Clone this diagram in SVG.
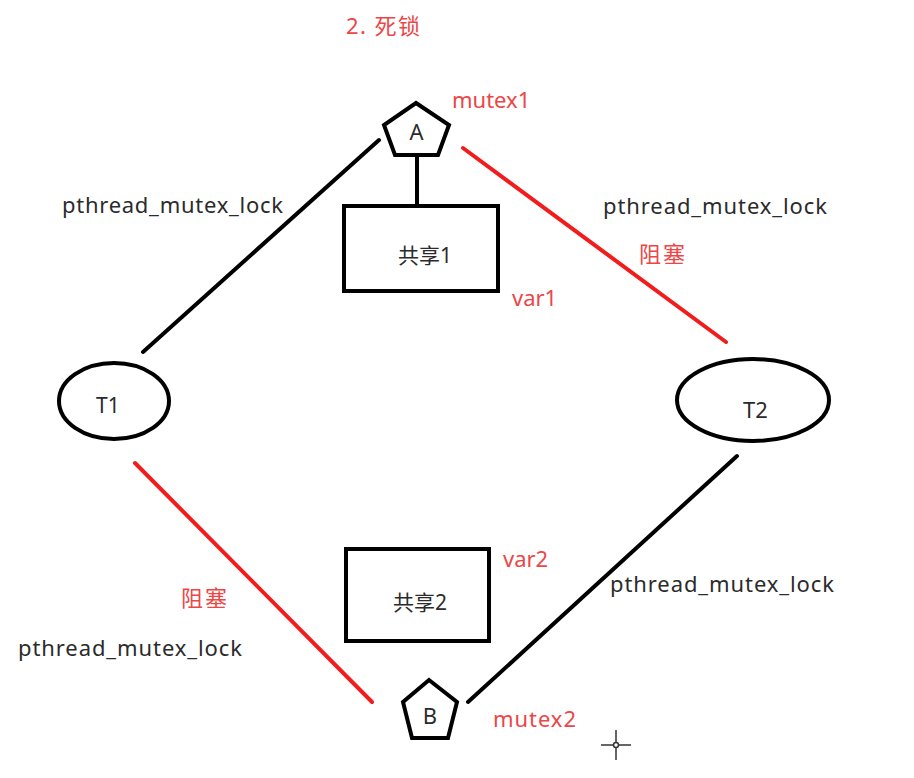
<svg xmlns="http://www.w3.org/2000/svg" width="914" height="778" viewBox="0 0 914 778">
<style>
.shape{fill:#fff;stroke:#000;stroke-width:4}
.blk{stroke:#000;stroke-width:4;stroke-linecap:round;fill:none}
.red{stroke:#f21c1c;stroke-width:4;stroke-linecap:round;fill:none}
.t{font-family:"Noto Sans","Noto Sans CJK SC",sans-serif;fill:#2b2b2b}
.r{font-family:"Noto Sans","Noto Sans CJK SC",sans-serif;fill:#ec4646}
</style>
<rect width="914" height="778" fill="#fff"/>
<text class="r" x="346" y="34" font-size="22" textLength="74">2. 死锁</text>
<g id="connectors">
<line class="blk" x1="379" y1="140" x2="143" y2="352"/>
<line class="red" x1="463" y1="148" x2="726" y2="342"/>
<line class="blk" x1="417" y1="155" x2="417" y2="206"/>
<line class="red" x1="135" y1="463" x2="372" y2="702"/>
<line class="blk" x1="737" y1="456" x2="468" y2="702"/>
</g>
<g id="nodeA">
<polygon class="shape" points="416,103 449,125 438,155 395,155 384,125"/>
<text class="t" x="416.5" y="140" font-size="22" text-anchor="middle">A</text>
<text class="r" x="452" y="108" font-size="22">mutex1</text>
</g>
<g id="share1">
<rect class="shape" x="344" y="206" width="154" height="85"/>
<text class="t" x="398" y="263" font-size="21">共享1</text>
<text class="r" x="512" y="306" font-size="22">var1</text>
</g>
<g id="T1">
<ellipse class="shape" cx="114" cy="401" rx="55" ry="38"/>
<text class="t" x="96" y="413" font-size="21">T1</text>
</g>
<g id="T2">
<ellipse class="shape" cx="753" cy="400" rx="76" ry="41"/>
<text class="t" x="743" y="418" font-size="22">T2</text>
</g>
<g id="share2">
<rect class="shape" x="346" y="549" width="143" height="92"/>
<text class="t" x="393" y="610" font-size="21">共享2</text>
<text class="r" x="503" y="567" font-size="22">var2</text>
</g>
<g id="nodeB">
<polygon class="shape" points="429,680 457,702 448,738 412,738 403,702"/>
<text class="t" x="430" y="724" font-size="22" text-anchor="middle">B</text>
<text class="r" x="493" y="727" font-size="22" textLength="83">mutex2</text>
</g>
<g id="labels">
<text class="t" x="62" y="213" font-size="22" textLength="221">pthread_mutex_lock</text>
<text class="t" x="603" y="214" font-size="22" textLength="224">pthread_mutex_lock</text>
<text class="t" x="610" y="592" font-size="22" textLength="224">pthread_mutex_lock</text>
<text class="t" x="18" y="656" font-size="22" textLength="224">pthread_mutex_lock</text>
<text class="r" x="639" y="262" font-size="22" textLength="46">阻塞</text>
<text class="r" x="181" y="606" font-size="22" textLength="46">阻塞</text>
</g>
<g id="cursor" stroke="#333" stroke-width="1.5" fill="none">
<line x1="601" y1="745" x2="613" y2="745"/>
<line x1="619" y1="745" x2="631" y2="745"/>
<line x1="616" y1="730" x2="616" y2="742"/>
<line x1="616" y1="748" x2="616" y2="760"/>
<circle cx="616" cy="745" r="2.5"/>
</g>
</svg>
